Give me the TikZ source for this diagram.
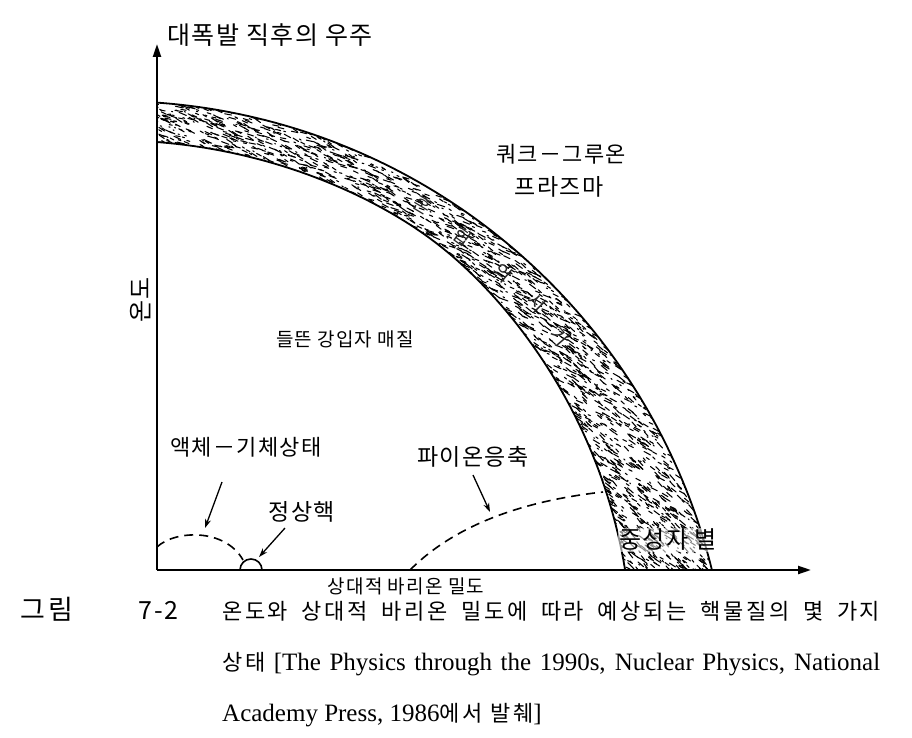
\documentclass[tikz,border=0pt]{standalone}
\usepackage{fontspec}
\setmainfont{Liberation Serif}
\newfontfamily\kr[LetterSpace=6]{Noto Sans CJK KR}
\newfontfamily\krc[LetterSpace=12]{Noto Sans CJK KR}
\newfontfamily\krw[LetterSpace=14]{Noto Sans CJK KR}
\usetikzlibrary{arrows.meta}
\tikzset{
  axisline/.style={line width=2.2pt,-{Triangle[length=13pt,width=8pt]}},
  bandedge/.style={line width=1.8pt},
  dashcurve/.style={line width=1.6pt,dash pattern=on 9pt off 6pt},
  ptr/.style={line width=1.3pt,-{Stealth[length=9pt,width=6pt]}},
  lbl/.style={font={\kr\fontsize{23}{26}\selectfont},inner sep=0pt},
  smalllbl/.style={font={\kr\fontsize{19}{22}\selectfont},inner sep=0pt},
  bandlbl/.style={font={\kr\fontsize{19}{20}\selectfont},inner sep=0pt,text=black!85},
  caplbl/.style={font={\krc\fontsize{22}{26}\selectfont},inner sep=0pt,anchor=base west},
  engcap/.style={font={\fontsize{25}{28}\selectfont},inner sep=0pt,anchor=base west},
  texmark/.style={line width=1.05pt,line cap=round},
}
\begin{document}
\begin{tikzpicture}[x=1pt,y=-1pt,
  declare function={rin(\t)=578-0.56*(sqrt((56-\t)^2+36)+56-\t);}]
\useasboundingbox (0,0) rectangle (912,738);
\fill[white] (0,0) rectangle (912,738);
\pgfmathsetseed{4242}

% ---- band (mixed region) ----
\begin{scope}
  \clip (157,0) rectangle (912,570);
  \begin{scope}
    \clip plot[domain=10:90,samples=90] ({113+617*cos(\x)},{718-617*sin(\x)})
      -- plot[domain=90:10,samples=90] ({113+rin(\x)*cos(\x)},{718-rin(\x)*sin(\x)}) -- cycle;
    \foreach \i in {1,...,2500}{
      \pgfmathsetmacro\th{12+78*rnd^1.3}
      \pgfmathsetmacro\ri{rin(\th)}
      \pgfmathsetmacro\rr{\ri-3+(623-\ri)*rnd}
      \pgfmathsetmacro\an{6+(90-\th)*0.3+26*rnd}
      \pgfmathsetmacro\ln{1+7*rnd}
      \draw[texmark] ({113+\rr*cos(\th)},{718-\rr*sin(\th)}) -- ++(\an:\ln);
    }
  \end{scope}
  \draw[bandedge] plot[domain=10:90,samples=90] ({113+617*cos(\x)},{718-617*sin(\x)});
  \draw[bandedge] plot[domain=10:90,samples=90] ({113+rin(\x)*cos(\x)},{718-rin(\x)*sin(\x)});
\end{scope}

% band label
\node[bandlbl,rotate=-31] (b1) at (423,205) {혼};
\node[bandlbl,rotate=-36] (b2) at (463,237) {합};
\node[bandlbl,rotate=-41] (b3) at (503,273) {의};
\node[bandlbl,rotate=-45.6] (b4) at (537,303) {시};
\node[bandlbl,rotate=-49.6] (b5) at (560,337) {기};

% ---- axes ----
\coordinate (O) at (157,570);
\coordinate (ytip) at (157,44);
\coordinate (xtip) at (811,570);
\draw[axisline] (O) -- (ytip);
\draw[axisline] (O) -- (xtip);

% ---- dashed phase boundaries ----
\coordinate (lg0) at (157,547);
\coordinate (lg1) at (243,560);
\draw[dashcurve] (lg0) .. controls (175,530) and (225,528) .. (lg1);
\coordinate (nn0) at (240,570);
\draw[line width=1.6pt] (nn0) arc[start angle=180,end angle=360,radius=11];
\coordinate (pc0) at (410,570);
\coordinate (pc1) at (603,492);
\draw[dashcurve] (pc0) .. controls (440,540) and (495,504) .. (pc1);

% ---- labels ----
\node[lbl,font={\kr\fontsize{25}{28}\selectfont}] (top) at (270,35) {대폭발 직후의 우주};
\node[lbl,font={\kr\fontsize{22}{26}\selectfont}] (qgp1) at (561,154) {쿼크－그루온};
\node[lbl] (qgp2) at (559,187) {프라즈마};
\node[smalllbl] (hot) at (345,339) {들뜬 강입자 매질};
\node[lbl,font={\kr\fontsize{24}{26}\selectfont},rotate=90] (temp) at (141,300) {온도};
\node[lbl,font={\kr\fontsize{22}{26}\selectfont}] (lg) at (246,447) {액체－기체상태};
\node[lbl] (nn) at (302,512) {정상핵};
\node[lbl] (pc) at (473,457) {파이온응축};
\node[lbl,font={\kr\fontsize{24}{26}\selectfont},fill=white,fill opacity=0.55,text opacity=1,inner sep=1pt] (ns) at (668,540) {중성자 별};
\node[smalllbl] (xlab) at (406,586) {상대적 바리온 밀도};

% ---- pointer arrows ----
\coordinate (lgA) at (222,482);
\coordinate (lgB) at (205,528);
\draw[ptr] (lgA) -- (lgB);
\coordinate (nnA) at (285,528);
\coordinate (nnB) at (259,557);
\draw[ptr] (nnA) -- (nnB);
\coordinate (pcA) at (473,475);
\coordinate (pcB) at (490,512);
\draw[ptr] (pcA) -- (pcB);

% ---- caption ----
\node[caplbl,font={\kr\fontsize{25}{28}\selectfont}] (c0) at (20,619) {\makebox[158pt][s]{{\krw\fontsize{27}{28}\selectfont 그림}\hfill 7-2}};
\node[caplbl] (c1) at (222,619) {\makebox[658pt][s]{온도와 상대적 바리온 밀도에 따라 예상되는 핵물질의 몇 가지}};
\node[engcap] (c2) at (222,670) {\makebox[658pt][s]{{\krc\fontsize{22}{26}\selectfont 상태} [The Physics through the 1990s, Nuclear Physics, National}};
\node[engcap] (c3) at (222,721) {Academy Press, 1986{\krc\fontsize{22}{26}\selectfont 에서 발췌}]};
\end{tikzpicture}
\end{document}
